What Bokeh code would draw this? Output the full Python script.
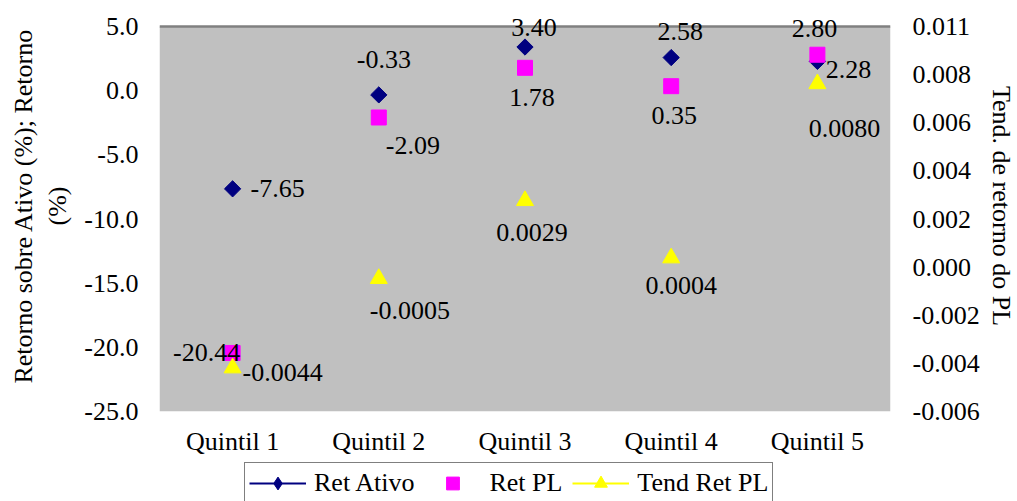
from bokeh.plotting import figure
from bokeh.layouts import column
from bokeh.models import (ColumnDataSource, Range1d, LinearAxis, FixedTicker, Span, BoxAnnotation,
                          Legend, LegendItem, FactorRange, NumeralTickFormatter)
from bokeh.embed import file_html
from bokeh.resources import INLINE
from bokeh.core.properties import value

# ---------------- data ----------------
categories = ["Quintil 1", "Quintil 2", "Quintil 3", "Quintil 4", "Quintil 5"]
ret_ativo = [-7.65, -0.33, 3.40, 2.58, 2.28]
ret_pl = [-20.44, -2.09, 1.78, 0.35, 2.80]
tend_ret_pl = [-0.0044, -0.0005, 0.0029, 0.0004, 0.0080]

left_ticks = [-25, -20, -15, -10, -5, 0, 5]
right_ticks = [-0.0063, -0.0042, -0.0021, 0.0, 0.0021, 0.0042, 0.0063, 0.0084, 0.0105]
right_tick_labels = ["-0.006", "-0.004", "-0.002", "0.000", "0.002", "0.004", "0.006", "0.008", "0.011"]

# label placement (screen px offsets from each marker)
ativo_dx = [45, 5, 9, 9, 31]
ativo_dy = [0, -35, -20, -26, 8]
pl_dx = [-26, 34, 7, 3, -3]
pl_dy = [0, 28, 30, 29, -26]
tend_dx = [50, 31, 7, 10, 27]
tend_dy = [5, 32, 32, 28, 45]

FONT = "Liberation Serif"
FS = "26px"

# plot area (gray) is 385 px tall; frame extends 26 px above it so top labels are not clipped
PLOT_H = 385
TOP_EXTRA = 26
ext = TOP_EXTRA / PLOT_H
l_lo, l_hi = left_ticks[0], left_ticks[-1]
r_lo, r_hi = right_ticks[0], right_ticks[-1]

p = figure(x_range=FactorRange(*categories),
           y_range=Range1d(l_lo, l_hi + (l_hi - l_lo) * ext),
           frame_width=731, frame_height=PLOT_H + TOP_EXTRA,
           output_backend="svg", toolbar_location=None,
           min_border_left=159, min_border_right=127, min_border_top=0, min_border_bottom=0)
p.extra_y_ranges = {"tend": Range1d(r_lo, r_hi + (r_hi - r_lo) * ext)}

p.background_fill_color = "white"
p.border_fill_color = "white"
p.outline_line_color = None
p.xgrid.grid_line_color = None
p.ygrid.grid_line_color = None

# gray plot area and its top border line
p.add_layout(BoxAnnotation(bottom=l_lo, top=l_hi, fill_color="#C0C0C0", fill_alpha=1.0,
                           line_color=None, level="underlay"))
p.add_layout(Span(location=l_hi, dimension="width", line_color="#808080", line_width=2.5,
                  level="underlay"))

src_a = ColumnDataSource(dict(x=categories, y=ret_ativo, t=[f"{v:.2f}" for v in ret_ativo], dx=ativo_dx, dy=ativo_dy))
src_p = ColumnDataSource(dict(x=categories, y=ret_pl, t=[f"{v:.2f}" for v in ret_pl], dx=pl_dx, dy=pl_dy))
src_t = ColumnDataSource(dict(x=categories, y=tend_ret_pl, t=[f"{v:.4f}" for v in tend_ret_pl], dx=tend_dx, dy=tend_dy))

p.scatter(x="x", y="y", source=src_a, marker="square", angle=0.7854, size=11.5,
          fill_color="#000080", line_color="#000080")
p.scatter(x="x", y="y", source=src_p, marker="square", size=15,
          fill_color="#FF00FF", line_color="#FF00FF")
p.scatter(x="x", y="y", source=src_t, marker="triangle", size=17,
          fill_color="#FFFF00", line_color="#FFFF00", y_range_name="tend")

for src, rng in ((src_a, "default"), (src_p, "default"), (src_t, "tend")):
    p.text(x="x", y="y", text="t", x_offset="dx", y_offset="dy", source=src,
           text_font=value(FONT), text_font_size=FS, text_color="black",
           text_align="center", text_baseline="middle", y_range_name=rng)

# axes
for ax in (p.xaxis[0], p.yaxis[0]):
    ax.axis_line_color = None
    ax.major_tick_line_color = None
    ax.minor_tick_line_color = None
    ax.major_tick_out = 0
    ax.major_tick_in = 0
    ax.major_label_text_font = FONT
    ax.major_label_text_font_size = FS
    ax.major_label_text_color = "black"
    ax.axis_label_text_font = FONT
    ax.axis_label_text_font_size = FS
    ax.axis_label_text_font_style = "normal"
    ax.axis_label_text_color = "black"

p.xaxis.major_label_standoff = 15
p.yaxis.ticker = FixedTicker(ticks=left_ticks)
p.yaxis.formatter = NumeralTickFormatter(format="0.0")
p.yaxis.major_label_standoff = 21
p.yaxis.axis_label = "Retorno sobre Ativo (%); Retorno\n(%)"
p.yaxis.axis_label_standoff = 9
p.yaxis.axis_label_text_line_height = 1.2

ry = LinearAxis(y_range_name="tend", ticker=FixedTicker(ticks=right_ticks),
                formatter=NumeralTickFormatter(format="0.000"),
                major_label_overrides={t: l for t, l in zip(right_ticks, right_tick_labels)},
                axis_label="Tend. de retorno do PL")
ry.axis_line_color = None
ry.major_tick_line_color = None
ry.minor_tick_line_color = None
ry.major_tick_out = 0
ry.major_tick_in = 0
ry.major_label_standoff = 22
ry.major_label_text_font = FONT
ry.major_label_text_font_size = FS
ry.major_label_text_color = "black"
ry.axis_label_text_font = FONT
ry.axis_label_text_font_size = FS
ry.axis_label_text_font_style = "normal"
ry.axis_label_text_color = "black"
ry.axis_label_standoff = 4
p.add_layout(ry, "right")

# ---------------- legend strip below the chart ----------------
p2 = figure(width=1017, height=45, x_range=Range1d(0, 1), y_range=Range1d(0, 1),
            output_backend="svg", toolbar_location=None, min_border=0,
            x_axis_location=None, y_axis_location=None)
p2.outline_line_color = None
p2.background_fill_color = "white"
p2.border_fill_color = "white"
p2.grid.grid_line_color = None

nan_src = ColumnDataSource(dict(x=[0.5], y=[float("nan")]))
g_ln_a = p2.line(x="x", y="y", source=nan_src, line_color="#000080", line_width=2)
g_mk_a = p2.scatter(x="x", y="y", source=nan_src, marker="diamond", size=18,
                    fill_color="#000080", line_color="#000080")
g_sq_p = p2.scatter(x="x", y="y", source=nan_src, marker="square", size=15,
                    fill_color="#FF00FF", line_color="#FF00FF")
g_ln_t = p2.line(x="x", y="y", source=nan_src, line_color="#FFFF00", line_width=2)
g_tr_t = p2.scatter(x="x", y="y", source=nan_src, marker="triangle", size=17,
                    fill_color="#FFFF00", line_color="#FFFF00")

legend = Legend(items=[
    LegendItem(label="Ret Ativo", renderers=[g_ln_a, g_mk_a]),
    LegendItem(label="Ret PL", renderers=[g_sq_p]),
    LegendItem(label="Tend Ret PL", renderers=[g_ln_t, g_tr_t]),
], orientation="horizontal", location=(85, -1))
legend.label_text_font = FONT
legend.label_text_font_size = FS
legend.label_text_color = "black"
legend.glyph_width = 57
legend.glyph_height = 32
legend.label_height = 32
legend.label_standoff = 8
legend.spacing = 10
legend.padding = 4
legend.margin = 0
legend.border_line_color = "black"
legend.border_line_width = 1
legend.background_fill_color = "white"
legend.background_fill_alpha = 1.0
p2.add_layout(legend)

open("out.html", "w").write(file_html(column(p, p2, spacing=0), INLINE))
